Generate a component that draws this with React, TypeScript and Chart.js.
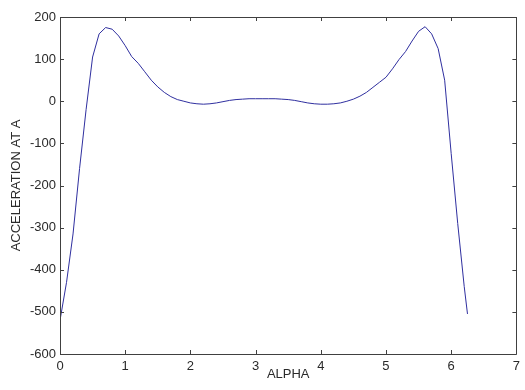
import React, { useEffect, useRef } from "react";
import { Chart, registerables } from "chart.js";

Chart.register(...registerables);

const alpha: number[] = [
  0, 0.1, 0.2, 0.3, 0.4, 0.5, 0.6, 0.7, 0.8, 0.9,
  1.0, 1.1, 1.2, 1.3, 1.4, 1.5, 1.6, 1.7, 1.8, 1.9,
  2.0, 2.1, 2.2, 2.3, 2.4, 2.5, 2.6, 2.7, 2.8, 2.9,
  3.0, 3.1, 3.2, 3.3, 3.4, 3.5, 3.6, 3.7, 3.8, 3.9,
  4.0, 4.1, 4.2, 4.3, 4.4, 4.5, 4.6, 4.7, 4.8, 4.9,
  5.0, 5.1, 5.2, 5.3, 5.4, 5.5, 5.6, 5.7, 5.8, 5.9,
  6.0, 6.1, 6.2, 6.25,
];

const accelerationAtA: number[] = [
  -520, -430, -315, -160, -20, 105, 160, 175, 171, 155,
  132, 106, 90, 70, 50, 34, 21, 11, 4, 0,
  -4, -6, -7, -6, -4, -1, 2, 4, 5, 6,
  6, 6, 6, 6, 5, 4, 2, -1, -4, -6,
  -7, -7, -6, -4, 0, 5, 12, 21, 33, 45,
  57, 77, 99, 118, 143, 166, 177, 160, 125, 50,
  -124, -290, -440, -505,
];

const xTicks: number[] = [0, 1, 2, 3, 4, 5, 6, 7];
const yTicks: number[] = [-600, -500, -400, -300, -200, -100, 0, 100, 200];

const AXIS_COLOR = "#404040";
const TEXT_COLOR = "#2a2a2a";
const FONT_FAMILY = "'Liberation Sans', Arial, Helvetica, sans-serif";

const boxPlugin = {
  id: "matlabBox",
  afterDraw(chart: any) {
    const { ctx, chartArea } = chart;
    const xs = chart.scales.x;
    const ys = chart.scales.y;
    const { left, right, top, bottom } = chartArea;
    const len = 4;
    ctx.save();
    ctx.strokeStyle = AXIS_COLOR;
    ctx.lineWidth = 1;
    ctx.beginPath();
    ctx.rect(Math.round(left) + 0.5, Math.round(top) + 0.5, Math.round(right - left), Math.round(bottom - top));
    for (const v of xTicks) {
      const px = Math.round(xs.getPixelForValue(v)) + 0.5;
      ctx.moveTo(px, bottom);
      ctx.lineTo(px, bottom - len);
      ctx.moveTo(px, top);
      ctx.lineTo(px, top + len);
    }
    for (const v of yTicks) {
      const py = Math.round(ys.getPixelForValue(v)) + 0.5;
      ctx.moveTo(left, py);
      ctx.lineTo(left + len, py);
      ctx.moveTo(right, py);
      ctx.lineTo(right - len, py);
    }
    ctx.stroke();
    ctx.restore();
  },
};

export default function App() {
  const ref = useRef<HTMLCanvasElement | null>(null);

  useEffect(() => {
    document.body.style.margin = "0";
    if (!ref.current) return;
    const chart = new Chart(ref.current, {
      type: "line",
      data: {
        datasets: [
          {
            data: alpha.map((a, i) => ({ x: a, y: accelerationAtA[i] })),
            borderColor: "#2f2f9f",
            borderWidth: 1,
            pointRadius: 0,
            tension: 0,
            fill: false,
          },
        ],
      },
      options: {
        animation: false,
        responsive: false,
        devicePixelRatio: 1,
        layout: { padding: { top: 17, right: 6, left: 0, bottom: 0 } },
        plugins: {
          legend: { display: false },
          tooltip: { enabled: false },
        },
        scales: {
          x: {
            type: "linear",
            min: 0,
            max: 7,
            afterFit: (s: any) => {
              s.height = 36;
            },
            afterBuildTicks: (s: any) => {
              s.ticks = xTicks.map((v) => ({ value: v }));
            },
            grid: { display: false, drawTicks: false },
            border: { display: false },
            ticks: {
              color: TEXT_COLOR,
              font: { family: FONT_FAMILY, size: 13 },
              padding: 5,
              maxRotation: 0,
              autoSkip: false,
            },
            title: {
              display: true,
              text: "ALPHA",
              color: TEXT_COLOR,
              font: { family: FONT_FAMILY, size: 13 },
              padding: { top: 0, bottom: 8 },
            },
          },
          y: {
            type: "linear",
            min: -600,
            max: 200,
            afterFit: (s: any) => {
              s.width = 60;
            },
            afterBuildTicks: (s: any) => {
              s.ticks = yTicks.map((v) => ({ value: v }));
            },
            grid: { display: false, drawTicks: false },
            border: { display: false },
            ticks: {
              color: TEXT_COLOR,
              font: { family: FONT_FAMILY, size: 13 },
              padding: 4,
              autoSkip: false,
            },
            title: {
              display: true,
              text: "ACCELERATION AT A",
              color: TEXT_COLOR,
              font: { family: FONT_FAMILY, size: 13 },
              padding: { top: 9, bottom: 0 },
            },
          },
        },
      },
      plugins: [boxPlugin],
    });
    return () => chart.destroy();
  }, []);

  return (
    <div style={{ width: 525, height: 390, background: "#fff" }}>
      <canvas ref={ref} width={525} height={390} style={{ display: "block" }} />
    </div>
  );
}
